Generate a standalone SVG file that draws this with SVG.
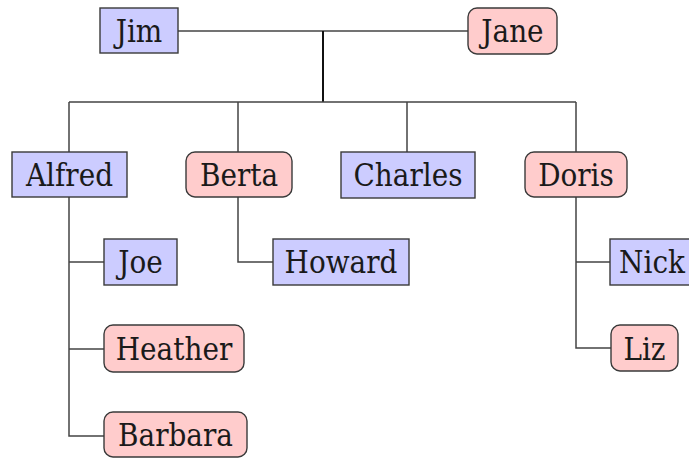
<svg xmlns="http://www.w3.org/2000/svg" width="689" height="458" viewBox="0 0 689 458">
<style>
.m{fill:#ccccff;stroke:#3a3a3a;stroke-width:1.4}
.f{fill:#ffcccc;stroke:#3a3a3a;stroke-width:1.4}
text{font-size:31px;fill:#1a1a1a;text-anchor:middle}
.c{fill:none;stroke:#444;stroke-width:1.5}
</style>
<rect width="689" height="458" fill="#fff"/>
<g id="connectors">
<path class="c" d="M178,31 H468"/>
<path d="M323,31 V102" stroke="#111" stroke-width="2" fill="none"/>
<path class="c" d="M69,102 H576 M69,102 V152 M238,102 V152 M407,102 V152 M576,102 V152"/>
<path class="c" d="M69,197 V436 H104 M69,262 H104 M69,349 H104"/>
<path class="c" d="M238,197 V262 H273"/>
<path class="c" d="M576,197 V348 H611 M576,262 H610"/>
</g>
<g font-family="DejaVu Serif Condensed, DejaVu Serif, serif">
<g id="jim"><rect class="m" x="100" y="8" width="78" height="45"/><text x="139" y="42">Jim</text></g>
<g id="jane"><rect class="f" x="468" y="8" width="89" height="46" rx="9"/><text x="512.5" y="42">Jane</text></g>
<g id="alfred"><rect class="m" x="12" y="152" width="115" height="45"/><text x="69.5" y="186">Alfred</text></g>
<g id="berta"><rect class="f" x="186" y="152" width="106" height="45" rx="9"/><text x="239" y="186">Berta</text></g>
<g id="charles"><rect class="m" x="341" y="152" width="134" height="46"/><text x="408" y="186">Charles</text></g>
<g id="doris"><rect class="f" x="525" y="152" width="102" height="45" rx="9"/><text x="576" y="186">Doris</text></g>
<g id="joe"><rect class="m" x="104" y="239" width="73" height="46"/><text x="140.5" y="273">Joe</text></g>
<g id="heather"><rect class="f" x="104" y="325" width="140" height="47" rx="9"/><text x="174" y="360">Heather</text></g>
<g id="barbara"><rect class="f" x="104" y="412" width="143" height="45" rx="9"/><text x="175.5" y="446">Barbara</text></g>
<g id="howard"><rect class="m" x="273" y="239" width="136" height="46"/><text x="341" y="273">Howard</text></g>
<g id="nick"><rect class="m" x="610" y="239" width="84" height="46"/><text x="652" y="273">Nick</text></g>
<g id="liz"><rect class="f" x="611" y="325" width="67" height="46" rx="9"/><text x="644.5" y="360">Liz</text></g>
</g>
</svg>
